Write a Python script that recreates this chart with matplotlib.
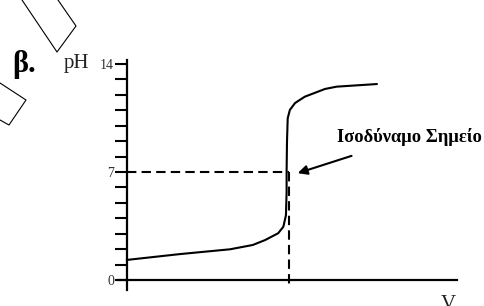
import numpy as np
import matplotlib
matplotlib.use('Agg')
import matplotlib.pyplot as plt

plt.rcParams['font.family'] = ['Liberation Serif', 'DejaVu Serif']

# titration curve (V in mL, equivalence at 25)
V  = [0, 8.2, 15.9, 19.4, 21.3, 23.3, 24.1, 24.5, 24.6, 24.6, 24.66, 24.77, 25.1, 25.9, 27.4, 30.5, 32.3, 38.5]
pH = [1.30, 1.68, 1.99, 2.27, 2.59, 3.03, 3.45, 4.2, 5.7, 7.0, 8.94, 10.48, 11.02, 11.47, 11.88, 12.38, 12.53, 12.70]
V_EQ = 25.0; PH_EQ = 7.0
yticks = list(range(0, 15))
ylabels = ['0' if t == 0 else '7' if t == 7 else '14' if t == 14 else '' for t in yticks]

# stray scan fragments (pixel coords of the page)
frag1 = [(22, 0), (57, 52), (76, 26), (58, 0)]
frag2 = [(0, 83), (26, 100), (9, 125), (0, 120)]

W, H = 485, 306
fig = plt.figure(figsize=(W/100, H/100), dpi=100)
ax = fig.add_axes([0, 0, 1, 1])
X0, KX = 126.7, 6.5      # px of V=0, px per mL
Y0, KY = 280.0, 15.43    # px of pH=0, px per pH unit
ax.set_xlim(-X0/KX, (W-X0)/KX)
ax.set_ylim(-(H-Y0)/KY, Y0/KY)
ax.patch.set_alpha(0)

for s in ['top', 'right']:
    ax.spines[s].set_visible(False)
ax.spines['left'].set_position(('data', 0)); ax.spines['left'].set_bounds(-0.65, 14.26)
ax.spines['bottom'].set_position(('data', 0)); ax.spines['bottom'].set_bounds(-1.3, 50.8)
ax.spines['left'].set_linewidth(1.6); ax.spines['bottom'].set_linewidth(1.6)
ax.set_yticks(yticks); ax.set_yticklabels(ylabels, fontsize=10, color='#333')
ax.tick_params(axis='y', direction='out', length=8.6, width=1.5, pad=0.5)
ax.set_xticks([])

ax.plot(V, pH, color='k', lw=1.5, solid_capstyle='round')
ax.plot([0, V_EQ], [PH_EQ, PH_EQ], color='k', lw=1.5, ls=(0, (4.5, 2.5)))
ax.plot([V_EQ, V_EQ], [PH_EQ, -0.45], color='k', lw=1.5, ls=(0, (4.5, 2.5)))

ax.annotate('', xy=(25.9, 6.87), xytext=(35.0, 8.1),
            arrowprops=dict(arrowstyle='-|>', color='k', lw=1.5, mutation_scale=14))

def fx(px): return px / W
def fy(py): return 1 - py / H

fig.text(fx(337), fy(142.5), 'Ισοδύναμο Σημείο', fontsize=13.3, fontweight='bold', ha='left', va='baseline')
fig.text(fx(64), fy(68), 'pH', fontsize=15, ha='left', va='baseline', color='#222')
fig.text(fx(448), fy(295), 'V', fontsize=15, ha='center', va='top', color='#222')
fig.text(fx(12), fy(72), 'β.', fontsize=22, fontweight='bold', ha='left', va='baseline')

for frag in (frag1, frag2):
    fig.add_artist(plt.Line2D([fx(p[0]) for p in frag], [fy(p[1]) for p in frag],
                              color='k', lw=0.8, transform=fig.transFigure))

plt.savefig('out.png', dpi=100)
